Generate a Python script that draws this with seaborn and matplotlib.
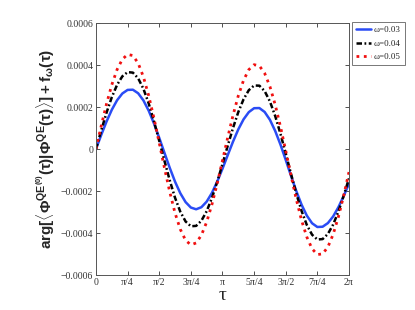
import numpy as np
import pandas as pd
import matplotlib
matplotlib.use("Agg")
import matplotlib.pyplot as plt
import seaborn as sns

# tau grid, step pi/24 (in units of 1e-4)
tau = np.arange(49) * np.pi / 24
w003 = [0, 0.673, 1.307, 1.867, 2.321, 2.643, 2.814, 2.823, 2.654, 2.314, 1.825,
        1.216, 0.531, -0.191, -0.901, -1.556, -2.107, -2.528, -2.788, -2.870,
        -2.772, -2.506, -2.090, -1.553, -0.939, -0.288, 0.352, 0.934, 1.413,
        1.757, 1.943, 1.950, 1.764, 1.392, 0.861, 0.212, -0.519, -1.273, -1.999,
        -2.649, -3.171, -3.536, -3.714, -3.701, -3.528, -3.210, -2.769, -2.237,
        -1.650]
w004 = [0, 0.892, 1.731, 2.467, 3.054, 3.461, 3.661, 3.637, 3.367, 2.867, 2.170,
        1.322, 0.390, -0.573, -1.499, -2.324, -2.988, -3.451, -3.679, -3.661,
        -3.416, -2.963, -2.331, -1.563, -0.716, 0.160, 1.003, 1.759, 2.369,
        2.803, 3.024, 3.016, 2.758, 2.266, 1.574, 0.724, -0.213, -1.182, -2.115,
        -2.947, -3.616, -4.082, -4.310, -4.289, -4.045, -3.598, -2.976, -2.227,
        -1.400]
w005 = [0, 1.108, 2.149, 3.058, 3.781, 4.273, 4.504, 4.450, 4.087, 3.435, 2.541,
        1.469, 0.290, -0.909, -2.048, -3.050, -3.826, -4.349, -4.565, -4.474,
        -4.103, -3.477, -2.638, -1.642, -0.553, 0.553, 1.606, 2.535, 3.274,
        3.779, 4.015, 3.961, 3.607, 2.976, 2.110, 1.069, -0.081, -1.258, -2.387,
        -3.391, -4.190, -4.753, -5.026, -4.995, -4.666, -4.062, -3.225, -2.215,
        -1.100]
labels = ["\u03c9=0.03", "\u03c9=0.04", "\u03c9=0.05"]
xtick_labels = ["0", "\u03c0/4", "\u03c0/2", "3\u03c0/4", "\u03c0",
                "5\u03c0/4", "3\u03c0/2", "7\u03c0/4", "2\u03c0"]
yticks = [-0.0006, -0.0004, -0.0002, 0, 0.0002, 0.0004, 0.0006]
ytick_labels = ["\u22120.0006", "\u22120.0004", "\u22120.0002", "0",
                "0.0002", "0.0004", "0.0006"]

df = pd.DataFrame({"tau": np.tile(tau, 3),
                   "val": np.concatenate([w003, w004, w005]) * 1e-4,
                   "omega": np.repeat(labels, len(tau))})

sns.set_style("ticks")
plt.rcParams["font.family"] = ["Liberation Serif", "DejaVu Serif"]
plt.rcParams["mathtext.fontset"] = "custom"
plt.rcParams["mathtext.rm"] = "Liberation Sans:bold"
plt.rcParams["mathtext.it"] = "Liberation Sans:bold"
plt.rcParams["mathtext.bf"] = "Liberation Sans:bold"

fig = plt.figure(figsize=(4.15, 3.10), dpi=100)
ax = fig.add_axes([0.2313, 0.1129, 0.6096, 0.8129])

styles = {"\u03c9=0.03": dict(color="#2a4cf5", linestyle="-", linewidth=1.8),
          "\u03c9=0.04": dict(color="black", dashes=(2.2, 1.0, 0.7, 1.0), linewidth=1.8),
          "\u03c9=0.05": dict(color="#f01010", linestyle=":", linewidth=2.0)}
for lab in labels:
    sub = df[df["omega"] == lab]
    st = dict(styles[lab])
    dsh = st.pop("dashes", None)
    sns.lineplot(data=sub, x="tau", y="val", ax=ax, label=lab, **st)
    if dsh is not None:
        ax.lines[-1].set_dashes(dsh)

ax.set_xlim(0, 2 * np.pi)
ax.set_ylim(-0.0006, 0.0006)
ax.set_xticks(np.arange(9) * np.pi / 4)
ax.set_xticklabels(xtick_labels)
ax.set_yticks(yticks)
ax.set_yticklabels(ytick_labels)
ax.tick_params(axis="both", direction="in", top=True, right=True,
               labelsize=7, length=3, width=0.6, colors="#333333", pad=2)
for s in ax.spines.values():
    s.set_linewidth(0.7)
    s.set_color("#555555")
ax.set_xlabel("\u03c4", fontsize=14, labelpad=0)
ax.set_ylabel(r"$\mathrm{arg[\langle\Phi^{QE^{(0)}}(\tau)|\Phi^{QE}(\tau)\rangle]+f_{\omega}(\tau)}$",
              fontsize=11, labelpad=3)

ax.get_legend().remove()
h, l = ax.get_legend_handles_labels()
leg = fig.legend(h, l, loc="upper left", bbox_to_anchor=(352 / 415, 1 - 22 / 310),
                 fontsize=6.5, frameon=True, fancybox=False, handlelength=1.7,
                 handletextpad=0.3, borderpad=0.45, labelspacing=0.55,
                 borderaxespad=0)
leg.get_frame().set_edgecolor("#555555")
leg.get_frame().set_linewidth(0.7)

fig.savefig("out.png", dpi=100)
